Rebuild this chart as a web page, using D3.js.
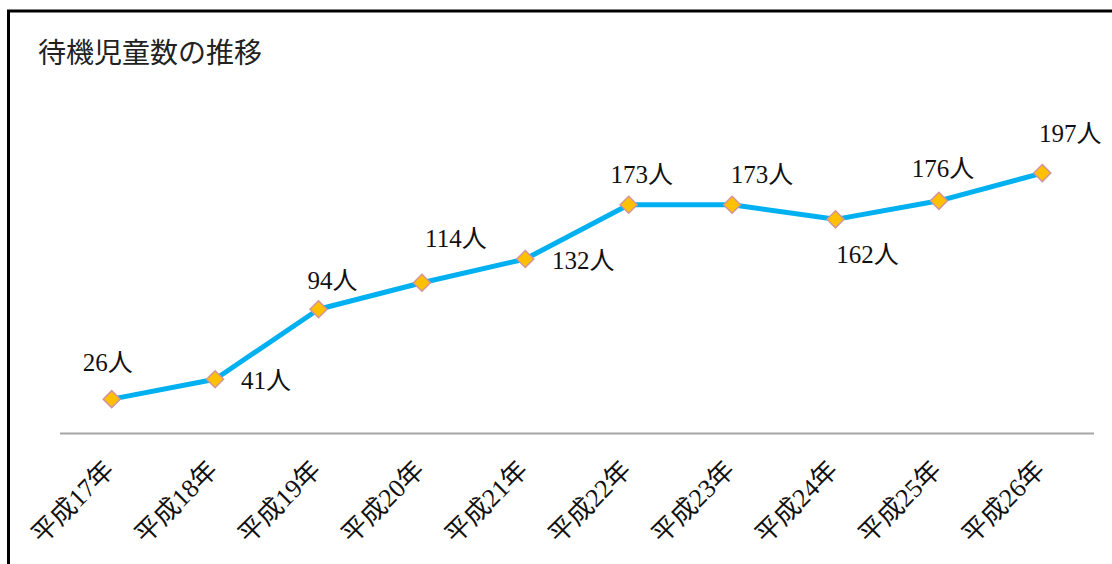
<!DOCTYPE html>
<html>
<head>
<meta charset="utf-8">
<script src="https://cdn.jsdelivr.net/npm/d3@7"></script>
<style>
  html, body { margin: 0; padding: 0; background: #fff; }
  #chart { width: 1112px; height: 564px; }
</style>
</head>
<body>
<div id="chart"></div>
<script>
// 年度と待機児童数
const years = ['平成17年', '平成18年', '平成19年', '平成20年', '平成21年',
               '平成22年', '平成23年', '平成24年', '平成25年', '平成26年'];
const counts = [26, 41, 94, 114, 132, 173, 173, 162, 176, 197];
const unit = '人';
const title = '待機児童数の推移';

const width = 1112, height = 564;
const svg = d3.select('#chart').append('svg')
    .attr('width', width)
    .attr('height', height);

// 外枠
svg.append('rect')
    .attr('x', 8.5).attr('y', 11)
    .attr('width', width + 20).attr('height', height + 20)
    .attr('fill', '#fff')
    .attr('stroke', '#000')
    .attr('stroke-width', 3);

svg.append('text')
    .attr('x', 38).attr('y', 63)
    .style('font-family', '"Noto Sans CJK JP", sans-serif')
    .style('font-size', '28px')
    .style('fill', '#222')
    .text(title);

const x = d3.scalePoint()
    .domain(years)
    .range([60, 1094])
    .padding(0.5);

const y = d3.scaleLinear()
    .domain([0, 250])
    .range([433.5, 103]);

const fontFamily = '"Liberation Serif", "Noto Sans CJK JP", serif';

// x軸
const xAxis = svg.append('g')
    .attr('transform', `translate(0,${y(0)})`)
    .call(d3.axisBottom(x).tickSize(0).tickFormat(''));
xAxis.select('.domain')
    .attr('d', `M60,0H1094`)
    .attr('stroke', '#a6a6a6')
    .attr('stroke-width', 2);

svg.append('g').selectAll('text')
    .data(years)
    .join('text')
    .attr('transform', d => `translate(${x(d) + 4},${y(0) + 38}) rotate(-45)`)
    .attr('text-anchor', 'end')
    .style('font-family', fontFamily)
    .style('font-size', '26px')
    .style('fill', '#111')
    .text(d => d);

// 折れ線
const line = d3.line()
    .x((d, i) => x(years[i]))
    .y(d => y(d));

svg.append('path')
    .datum(counts)
    .attr('d', line)
    .attr('fill', 'none')
    .attr('stroke', '#00b0f0')
    .attr('stroke-width', 5)
    .attr('stroke-linejoin', 'round');

// マーカー（ひし形）
svg.append('g').selectAll('path')
    .data(counts)
    .join('path')
    .attr('transform', (d, i) => `translate(${x(years[i])},${y(d)})`)
    .attr('d', 'M0,-8.5L8.5,0L0,8.5L-8.5,0Z')
    .attr('fill', '#ffc000')
    .attr('stroke', '#d4959a')
    .attr('stroke-width', 1.5);

// データラベルの位置調整（点からのずれ）
const labelNudge = [[-4, -28], [51, 10], [14, -20], [34, -36], [58, 10],
                    [13, -22], [30, -22], [32, 44], [4, -24], [28, -31]];

svg.append('g').selectAll('text')
    .data(counts)
    .join('text')
    .attr('x', (d, i) => x(years[i]) + labelNudge[i][0])
    .attr('y', (d, i) => y(d) + labelNudge[i][1])
    .attr('text-anchor', 'middle')
    .style('font-family', fontFamily)
    .style('font-size', '25px')
    .style('fill', '#111')
    .text(d => d + unit);
</script>
</body>
</html>
